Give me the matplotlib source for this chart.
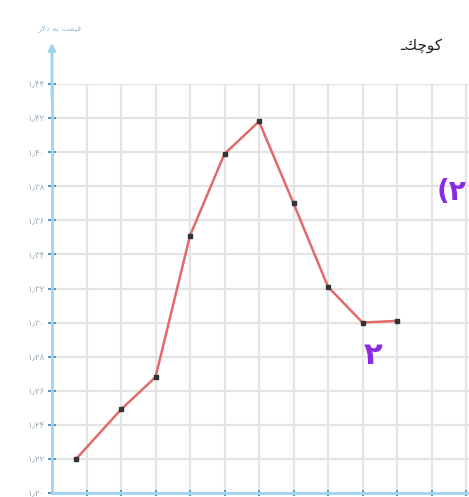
import matplotlib
matplotlib.use("Agg")
import matplotlib.pyplot as plt

# data
months = [0.7, 2, 3, 4, 5, 6, 7, 8, 9, 10]
price = [1.220, 1.249, 1.268, 1.351, 1.399, 1.418, 1.370, 1.321, 1.300, 1.301]
ytick_vals = [1.20 + 0.02 * i for i in range(13)]
fa_digits = str.maketrans("0123456789.", "۰۱۲۳۴۵۶۷۸۹٫")
ytick_labels = [("%.2f" % v).translate(fa_digits) for v in ytick_vals]
xtick_vals = list(range(1, 13))

# Persian words pre-shaped (matplotlib has no RTL shaping)
ylabel_txt = "\uFEAD\uFEFB\uFEA9 \uFEEA\uFE91 \uFE96\uFEE4\uFEF4\uFED7"   # قیمت به دلار
corner_txt = "\u0640\uFEDA\uFB7C\uFEEE\uFEDB"                             # کوچک

fig = plt.figure(figsize=(4.69, 4.97), dpi=100)
ax = fig.add_axes([52 / 469, 4 / 497, (469 - 52) / 469, 409 / 497])

ax.plot(months, price, color="#e26a6a", lw=1.8, zorder=3)
ax.plot(months, price, ls="none", marker="s", ms=3.5, color="#333333", zorder=4)

ax.set_xlim(0, 417 / 34.5)
ax.set_ylim(1.20, 1.44)
ax.set_yticks(ytick_vals)
ax.set_yticklabels(ytick_labels)
ax.set_xticks(xtick_vals)
ax.set_xticklabels([])
ax.grid(True, color="#e4e4e4", lw=1.6)
ax.set_axisbelow(True)

for side in ["top", "right"]:
    ax.spines[side].set_visible(False)
for side in ["left", "bottom"]:
    ax.spines[side].set_color("#9fd3ee")
    ax.spines[side].set_linewidth(2)
ax.tick_params(axis="y", direction="inout", length=6, width=1.5, color="#5a96b4",
               labelsize=6.5, labelcolor="#9fb3c0", pad=2)
ax.tick_params(axis="x", direction="inout", length=4, width=1.5, color="#5a96b4")

# arrow on the y axis
ax.annotate("", xy=(0, 1.44 + 44 / 34.2 * 0.02), xytext=(0, 1.43),
            arrowprops=dict(arrowstyle="-|>", color="#9fd3ee", lw=2), annotation_clip=False)
fig.text(60 / 469, 1 - 28 / 497, ylabel_txt, fontsize=6, color="#9fc4d8",
         ha="center", va="center")
fig.text(400 / 469, 1 - 46 / 497, corner_txt, fontsize=11, color="#222222",
         ha="left", va="center")

# purple hand marks
fig.text(373 / 469, 1 - 356 / 497, "۲", fontsize=22, color="#8a2be2",
         fontweight="bold", ha="center", va="center")
fig.text(466 / 469, 1 - 192 / 497, "(۲", fontsize=20, color="#8a2be2",
         fontweight="bold", ha="right", va="center")

fig.savefig("out.png", dpi=100)
